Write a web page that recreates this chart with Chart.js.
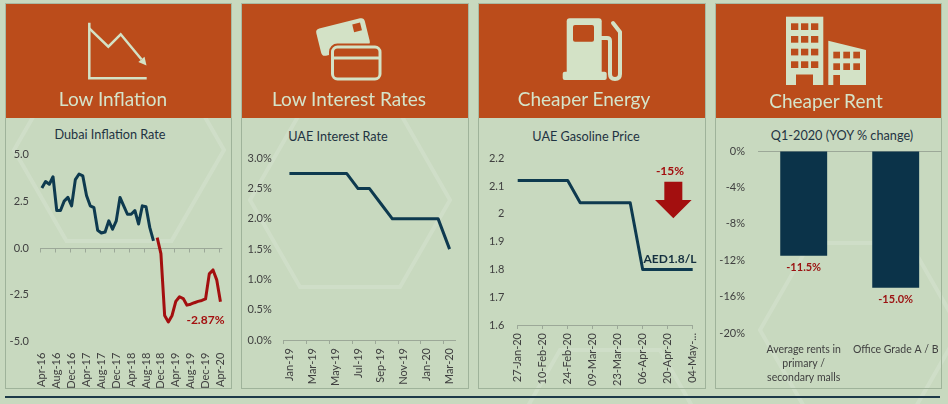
<!DOCTYPE html>
<html>
<head>
<meta charset="utf-8">
<script src="https://cdn.jsdelivr.net/npm/chart.js@4.4.0/dist/chart.umd.min.js"></script>
<style>
  body { margin: 0; background: #c8d9bf; font-family: Lato, "Open Sans", sans-serif; }
  #wrap { position: relative; width: 948px; height: 404px; overflow: hidden; background: #c8d9bf; }
  .head { position: absolute; top: 3px; height: 115px; background: #bb4c1b; box-sizing: border-box; border: 1px solid #a9baa2; border-bottom: none; }
  .panel { position: absolute; top: 118px; height: 271px; box-sizing: border-box; border: 1px solid #9fb39a; border-top: none; }
  .htxt { position: absolute; width: 200px; text-align: center; font-size: 19px; line-height: 24px; color: #d5e4ca; }
  .ttl { position: absolute; width: 200px; text-align: center; font-size: 12.7px; line-height: 16px; color: #1f3342; }
  .cv { position: absolute; top: 118px; height: 271px; }
  svg { position: absolute; left: 0; top: 0; }
</style>
</head>
<body>
<div id="wrap">
  <svg width="948" height="404" style="z-index:0">
    <g fill="none" stroke="rgba(255,255,255,0.14)" stroke-width="4">
      <polygon points="14,150 66.5,59 171.5,59 224,150 171.5,241 66.5,241"/>
      <polygon points="760,330 810,243 910,243 960,330 910,417 810,417"/>
      <polygon points="520,420 560,350 660,350 700,420"/>
      <polygon points="250,200 300,113 400,113 450,200 400,287 300,287"/>
    </g>
  </svg>

  <div class="panel" style="left:5px;width:227px"></div>
  <div class="panel" style="left:241px;width:228px"></div>
  <div class="panel" style="left:478px;width:228px"></div>
  <div class="panel" style="left:715px;width:227px"></div>

  <div class="head" style="left:5px;width:227px"></div>
  <div class="head" style="left:241px;width:228px"></div>
  <div class="head" style="left:478px;width:228px"></div>
  <div class="head" style="left:715px;width:227px"></div>

  <svg width="948" height="120" style="z-index:2">
    <g stroke="#d3e2c6" fill="none" stroke-width="2.5">
      <polyline points="89.3,22.7 89.3,78.3 146.7,78.3"/>
      <polyline points="89.3,28.3 108.3,46.7 120.7,34.3 141.4,59.3"/>
    </g>
    <polygon points="146.5,65.5 138.3,61.9 144.5,56.8" fill="#d3e2c6"/>

    <g transform="rotate(-14 343 37)">
      <rect x="318" y="23" width="50" height="28" rx="4" fill="#d3e2c6"/>
      <rect x="355" y="27" width="8" height="8" fill="#bb4c1b"/>
    </g>
    <rect x="332.5" y="47" width="47.5" height="32" rx="5" fill="#bb4c1b" stroke="#bb4c1b" stroke-width="7"/>
    <rect x="332.5" y="47" width="47.5" height="32" rx="5" fill="#bb4c1b" stroke="#d3e2c6" stroke-width="3"/>
    <line x1="333" y1="58" x2="379" y2="58" stroke="#d3e2c6" stroke-width="3"/>

    <rect x="566.7" y="18.3" width="35" height="56" rx="3" fill="#d3e2c6"/>
    <rect x="562.7" y="71.7" width="44" height="8.3" rx="2" fill="#d3e2c6"/>
    <rect x="573" y="25" width="21" height="16.7" rx="2" fill="#bb4c1b"/>
    <path d="M601 38 L607 38 Q610 38 610 41 L610 74 Q610 79 615 79 Q620 79 620 74 L620 32 L613 23" fill="none" stroke="#d3e2c6" stroke-width="4" stroke-linejoin="round" stroke-linecap="round"/>

    <rect x="786" y="16.7" width="37.3" height="68.3" fill="#d3e2c6"/>
    <g fill="#bb4c1b">
      <rect x="791" y="23.3" width="7.3" height="6.7"/><rect x="801" y="23.3" width="7.3" height="6.7"/><rect x="811" y="23.3" width="7.3" height="6.7"/>
      <rect x="791" y="36" width="7.3" height="6.7"/><rect x="801" y="36" width="7.3" height="6.7"/><rect x="811" y="36" width="7.3" height="6.7"/>
      <rect x="791" y="48.7" width="7.3" height="6.7"/><rect x="801" y="48.7" width="7.3" height="6.7"/><rect x="811" y="48.7" width="7.3" height="6.7"/>
      <rect x="791" y="61.3" width="7.3" height="6.7"/><rect x="801" y="61.3" width="7.3" height="6.7"/><rect x="811" y="61.3" width="7.3" height="6.7"/>
      <rect x="796" y="74.5" width="17" height="10.5"/>
    </g>
    <polygon points="828.3,40.7 866,50 866,85 828.3,85" fill="#d3e2c6"/>
    <g fill="#bb4c1b">
      <rect x="833.3" y="51.7" width="6.7" height="6.7"/><rect x="843.3" y="51.7" width="6.7" height="6.7"/><rect x="853.3" y="51.7" width="6.7" height="6.7"/>
      <rect x="833.3" y="63.3" width="6.7" height="6.7"/><rect x="843.3" y="63.3" width="6.7" height="6.7"/><rect x="853.3" y="63.3" width="6.7" height="6.7"/>
      <rect x="833.3" y="75" width="6.7" height="10"/>
    </g>
  </svg>

  <div class="htxt" style="left:13px;top:87px;z-index:3">Low Inflation</div>
  <div class="htxt" style="left:249px;top:87px;z-index:3">Low Interest Rates</div>
  <div class="htxt" style="left:484px;top:87px;z-index:3">Cheaper Energy</div>
  <div class="htxt" style="left:726px;top:89px;z-index:3">Cheaper Rent</div>

  <div class="ttl" style="left:10px;top:126px">Dubai Inflation Rate</div>
  <div class="ttl" style="left:238px;top:128px">UAE Interest Rate</div>
  <div class="ttl" style="left:486px;top:128px">UAE Gasoline Price</div>
  <div class="ttl" style="left:742px;top:127px">Q1-2020 (YOY % change)</div>

  <div class="cv" style="left:5px;width:227px"><canvas id="inflChart"></canvas></div>
  <div class="cv" style="left:241px;width:228px"><canvas id="rateChart"></canvas></div>
  <div class="cv" style="left:478px;width:228px"><canvas id="gasChart"></canvas></div>
  <div class="cv" style="left:715px;width:227px"><canvas id="rentChart"></canvas></div>

  <div style="position:absolute;left:5px;top:396px;width:935px;height:1.5px;background:#1e3a48"></div>
</div>

<script>
// Dubai inflation, monthly Apr-16 .. Apr-20 (%)
const monthNames = ['Jan','Feb','Mar','Apr','May','Jun','Jul','Aug','Sep','Oct','Nov','Dec'];
function monthLabels(startMonth, startYear, count) {
    const out = [];
    for (let k = 0; k < count; k++) {
        const m = (startMonth + k) % 12;
        const y = startYear + Math.floor((startMonth + k) / 12);
        out.push(monthNames[m] + '-' + String(y).padStart(2, '0'));
    }
    return out;
}
const inflMonths = monthLabels(3, 16, 49);
const inflBefore = [3.2, 3.55, 3.4, 3.8, 2.0, 2.0, 2.5, 2.7, 2.25, 3.65, 3.95, 3.85, 2.8, 2.25, 2.15,
                    0.95, 0.8, 0.85, 1.45, 1.0, 1.45, 2.7, 2.25, 1.8, 1.8, 2.0, 1.28, 2.25, 2.2, 1.1, 0.38];
const inflAfter = [0.55, -0.3, -3.6, -3.95, -3.6, -2.85, -2.6, -2.7, -3.05, -3.0, -2.92, -2.85, -2.8, -2.72,
                   -1.38, -1.17, -1.7, -2.87];
const inflTicks = [-5, 5, 2.5];

// UAE interest rate (%)
const rateMonths = ['Jan-19','Feb-19','Mar-19','Apr-19','May-19','Jun-19','Jul-19','Aug-19','Sep-19',
                    'Oct-19','Nov-19','Dec-19','Jan-20','Feb-20','Mar-20'];
const rateValues = [2.75, 2.75, 2.75, 2.75, 2.75, 2.75, 2.5, 2.5, 2.25, 2.0, 2.0, 2.0, 2.0, 2.0, 1.5];

// UAE gasoline price, weekly (AED/L)
const gasWeeks = ['27-Jan-20','03-Feb-20','10-Feb-20','17-Feb-20','24-Feb-20','02-Mar-20','09-Mar-20',
                  '16-Mar-20','23-Mar-20','30-Mar-20','06-Apr-20','13-Apr-20','20-Apr-20','27-Apr-20','04-May-20'];
const gasValues = [2.12, 2.12, 2.12, 2.12, 2.12, 2.04, 2.04, 2.04, 2.04, 2.04, 1.80, 1.80, 1.80, 1.80, 1.80];

// rents, Q1-2020 YOY % change
const rentCategories = [['Average rents in', 'primary /', 'secondary malls'], 'Office Grade A / B'];
const rentValues = [-11.5, -15.0];

const navy = '#0e3a4f';
const red = '#a30f0f';
const tickGray = '#404040';
const axisGray = '#9ca898';
const clear = 'rgba(0,0,0,0)';
const fontName = 'Lato, "Open Sans", sans-serif';

Chart.defaults.font.family = fontName;
Chart.defaults.font.size = 11;
Chart.defaults.color = tickGray;
Chart.defaults.animation = false;
Chart.defaults.plugins.legend.display = false;
Chart.defaults.plugins.tooltip.enabled = false;

// fixed axis size, and no extra side padding for the end labels
function fixHeight(h) {
    return s => { s.height = h; s.paddingLeft = 0; s.paddingRight = 0; };
}
function fixWidth(w) {
    return s => { s.width = w; s.paddingTop = 0; s.paddingBottom = 0; };
}

// horizontal axis drawn through zero, with tick marks every few categories
const zeroAxis = {
    id: 'zeroAxis',
    beforeDatasetsDraw(chart, args, opts) {
        if (!opts.every) return;
        const {ctx, chartArea, scales: {x, y}} = chart;
        const y0 = Math.round(y.getPixelForValue(0)) + 0.5;
        ctx.save();
        ctx.strokeStyle = opts.color;
        ctx.lineWidth = 1;
        ctx.beginPath();
        ctx.moveTo(chartArea.left, y0);
        ctx.lineTo(chartArea.right, y0);
        for (let i = 0; i < x.getLabels().length; i += opts.every) {
            const px = Math.round(x.getPixelForValue(i - 0.5)) + 0.5;
            ctx.moveTo(px, y0);
            ctx.lineTo(px, y0 + 4);
        }
        ctx.stroke();
        ctx.restore();
    }
};

// text notes and arrow placed in data units
const notes = {
    id: 'notes',
    afterDatasetsDraw(chart, args, opts) {
        const {ctx, scales: {x, y}} = chart;
        ctx.save();
        (opts.items || []).forEach(n => {
            ctx.font = 'bold 12px ' + fontName;
            ctx.fillStyle = n.color;
            ctx.textAlign = 'center';
            ctx.textBaseline = 'middle';
            ctx.fillText(n.text, x.getPixelForValue(n.index) + n.dx, y.getPixelForValue(n.value) + n.dy);
        });
        const a = opts.arrow;
        if (a) {
            const cx = x.getPixelForValue(a.index);
            const top = y.getPixelForValue(a.top), mid = y.getPixelForValue(a.mid), tip = y.getPixelForValue(a.tip);
            ctx.fillStyle = a.color;
            ctx.beginPath();
            ctx.moveTo(cx - a.shaft, top);
            ctx.lineTo(cx + a.shaft, top);
            ctx.lineTo(cx + a.shaft, mid);
            ctx.lineTo(cx + a.head, mid);
            ctx.lineTo(cx, tip);
            ctx.lineTo(cx - a.head, mid);
            ctx.lineTo(cx - a.shaft, mid);
            ctx.closePath();
            ctx.fill();
        }
        ctx.restore();
    }
};

// value labels under the bars
const barLabels = {
    id: 'barLabels',
    afterDatasetsDraw(chart, args, opts) {
        if (!opts.color) return;
        const {ctx} = chart;
        const ds = chart.data.datasets[0];
        ctx.save();
        ctx.font = 'bold 11px ' + fontName;
        ctx.fillStyle = opts.color;
        ctx.textAlign = 'center';
        ctx.textBaseline = 'middle';
        chart.getDatasetMeta(0).data.forEach((bar, i) => {
            ctx.fillText(ds.data[i].toFixed(1) + '%', bar.x, bar.y + 12);
        });
        ctx.restore();
    }
};

const lineStyle = {borderWidth: 3, pointRadius: 0, tension: 0, borderJoinStyle: 'round', borderCapStyle: 'butt', fill: false};

// Dubai inflation
new Chart(document.getElementById('inflChart'), {
    type: 'line',
    data: {
        labels: inflMonths,
        datasets: [
            Object.assign({data: inflBefore.concat(inflAfter.map(() => null)), borderColor: navy}, lineStyle),
            Object.assign({data: inflBefore.map(() => null).concat(inflAfter), borderColor: red}, lineStyle)
        ]
    },
    options: {
        responsive: true,
        maintainAspectRatio: false,
        layout: {padding: {top: 36.3, right: 9.7, left: 0, bottom: 0}},
        scales: {
            x: {
                offset: true,
                grid: {display: false, drawTicks: false},
                border: {display: false},
                ticks: {
                    autoSkip: false, minRotation: 90, maxRotation: 90, padding: 11,
                    callback: function(v, i) { return i % 4 === 0 ? this.getLabelForValue(v) : ''; }
                },
                afterFit: fixHeight(47.3)
            },
            y: {
                min: inflTicks[0], max: inflTicks[1],
                grid: {display: false, drawTicks: false},
                border: {display: false},
                ticks: {stepSize: inflTicks[2], padding: 11, callback: v => v.toFixed(1)},
                afterFit: fixWidth(35)
            }
        },
        plugins: {
            zeroAxis: {every: 4, color: axisGray},
            notes: {items: [{text: '-2.87%', index: 48, value: -2.87, dx: -15, dy: 18.5, color: red}]}
        }
    },
    plugins: [zeroAxis, notes]
});

// UAE interest rate
new Chart(document.getElementById('rateChart'), {
    type: 'line',
    data: {labels: rateMonths, datasets: [Object.assign({data: rateValues, borderColor: navy}, lineStyle)]},
    options: {
        responsive: true,
        maintainAspectRatio: false,
        layout: {padding: {top: 40.3, right: 13.7, left: 0, bottom: 0}},
        scales: {
            x: {
                offset: true,
                grid: {display: true, drawOnChartArea: false, drawTicks: true, tickLength: 4, offset: true,
                       color: c => c.index % 2 === 0 ? axisGray : clear},
                border: {display: true, color: axisGray},
                ticks: {
                    autoSkip: false, minRotation: 90, maxRotation: 90, padding: 4,
                    callback: function(v, i) { return i % 2 === 0 ? this.getLabelForValue(v) : ''; }
                },
                afterFit: fixHeight(49)
            },
            y: {
                min: 0, max: 3,
                grid: {display: false, drawTicks: false},
                border: {display: false},
                ticks: {stepSize: 0.5, padding: 12, callback: v => v.toFixed(1) + '%'},
                afterFit: fixWidth(42.7)
            }
        }
    }
});

// UAE gasoline price
new Chart(document.getElementById('gasChart'), {
    type: 'line',
    data: {labels: gasWeeks, datasets: [Object.assign({data: gasValues, borderColor: navy}, lineStyle)]},
    options: {
        responsive: true,
        maintainAspectRatio: false,
        layout: {padding: {top: 40.3, right: 13.3, left: 0, bottom: 0}},
        scales: {
            x: {
                grid: {display: true, drawOnChartArea: false, drawTicks: true, tickLength: 4,
                       color: c => c.index % 2 === 0 ? axisGray : clear},
                border: {display: true, color: axisGray},
                ticks: {
                    autoSkip: false, minRotation: 90, maxRotation: 90, padding: 4,
                    callback: function(v, i) {
                        if (i % 2 !== 0) return '';
                        const t = this.getLabelForValue(v);
                        return i === gasWeeks.length - 1 ? t.slice(0, 7) + '...' : t;
                    }
                },
                afterFit: fixHeight(64)
            },
            y: {
                min: 1.6, max: 2.2,
                grid: {display: false, drawTicks: false},
                border: {display: false},
                ticks: {stepSize: 0.1, padding: 13.4, callback: v => String(Math.round(v * 10) / 10)},
                afterFit: fixWidth(39.7)
            }
        },
        plugins: {
            notes: {
                items: [
                    {text: '-15%', index: 12, value: 2.155, dx: 2.3, dy: 0, color: red},
                    {text: 'AED1.8/L', index: 12, value: 1.8, dx: 2.3, dy: -10.5, color: '#142f3f'}
                ],
                arrow: {index: 12.45, top: 2.116, mid: 2.05, tip: 1.984, shaft: 9, head: 18.3, color: red}
            }
        }
    },
    plugins: [notes]
});

// rents
new Chart(document.getElementById('rentChart'), {
    type: 'bar',
    data: {
        labels: rentCategories,
        datasets: [{data: rentValues, backgroundColor: '#0b3349', categoryPercentage: 1, barPercentage: 0.51}]
    },
    options: {
        responsive: true,
        maintainAspectRatio: false,
        layout: {padding: {top: 33, right: 0.3, left: 0, bottom: 0}},
        scales: {
            x: {
                grid: {display: false, drawTicks: false},
                border: {display: false},
                ticks: {autoSkip: false, maxRotation: 0, padding: 9, font: {size: 10.5, lineHeight: 1.35}},
                afterFit: fixHeight(55.7)
            },
            y: {
                min: -20, max: 0,
                grid: {drawTicks: false, color: c => c.tick && c.tick.value === 0 ? axisGray : clear},
                border: {display: false},
                ticks: {stepSize: 4, padding: 12.7, callback: v => v + '%'},
                afterFit: fixWidth(42.7)
            }
        },
        plugins: {barLabels: {color: '#9b1111'}}
    },
    plugins: [barLabels]
});
</script>
</body>
</html>
